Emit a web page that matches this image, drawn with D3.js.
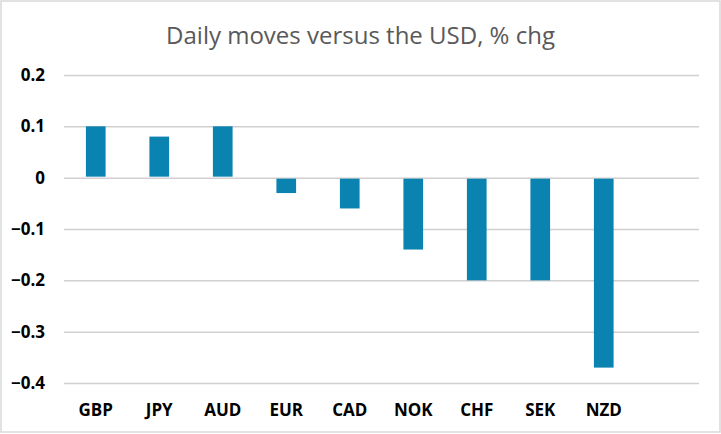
<!DOCTYPE html>
<html lang="en">
<head>
  <meta charset="UTF-8">
  <title>Daily moves versus the USD</title>
  <script src="https://d3js.org/d3.v7.min.js"></script>
  <style>
    body { margin: 0; background: #fff; }
    svg { display: block; }
  </style>
</head>
<body>
  <svg width="721" height="434"></svg>

  <script>
    // Chart data
    const currencies = ["GBP", "JPY", "AUD", "EUR", "CAD", "NOK", "CHF", "SEK", "NZD"];
    const changes = [0.1, 0.08, 0.1, -0.03, -0.06, -0.14, -0.2, -0.2, -0.37];
    const yTicks = [0.2, 0.1, 0, -0.1, -0.2, -0.3, -0.4];

    const W = 721, H = 434;
    const margin = { top: 75, right: 22, bottom: 51, left: 64 };
    const width = W - margin.left - margin.right;
    const height = H - margin.top - margin.bottom;
    const font = "'Open Sans', 'Noto Sans', sans-serif";

    const svg = d3.select("svg");

    // outer border
    svg.append("rect")
      .attr("x", 1).attr("y", 1)
      .attr("width", W - 2).attr("height", H - 3)
      .attr("fill", "#fff")
      .attr("stroke", "#d9d9d9")
      .attr("stroke-width", 1.5);

    // title
    svg.append("text")
      .attr("x", W / 2)
      .attr("y", 44)
      .attr("text-anchor", "middle")
      .style("font-family", font)
      .style("font-size", "24px")
      .style("fill", "#595959")
      .text("Daily moves versus the USD, % chg");

    const g = svg.append("g")
      .attr("transform", "translate(" + margin.left + "," + margin.top + ")");

    // the category axis leaves one empty slot on the right, like the original
    const x = d3.scaleBand()
      .domain(currencies)
      .range([0, width * 9 / 10])
      .paddingInner(0.69)
      .paddingOuter(0.345);

    const y = d3.scaleLinear()
      .domain([-0.4, 0.2])
      .range([height, 0]);

    // gridlines + y labels
    const yAxis = g.append("g")
      .call(d3.axisLeft(y).tickValues(yTicks).tickSize(-width).tickFormat(d => d3.format("")(+d.toFixed(1))));
    yAxis.select(".domain").remove();
    yAxis.selectAll(".tick line")
      .attr("stroke", "#d0d0d0")
      .attr("stroke-width", 1.5);
    yAxis.selectAll(".tick text")
      .attr("x", -19)
      .style("font-family", font)
      .style("font-size", "17px")
      .style("font-weight", "bold")
      .style("fill", "#000");

    // bars
    g.selectAll(".bar")
      .data(currencies)
      .enter().append("rect")
      .attr("class", "bar")
      .attr("x", d => x(d))
      .attr("y", (d, i) => changes[i] > 0 ? y(changes[i]) : y(0) + 1)
      .attr("width", x.bandwidth())
      .attr("height", (d, i) => Math.abs(y(changes[i]) - y(0)) - 1)
      .attr("fill", "#0b83b0");

    // category labels
    g.selectAll(".cat")
      .data(currencies)
      .enter().append("text")
      .attr("class", "cat")
      .attr("x", d => x(d) + x.bandwidth() / 2)
      .attr("y", height + 33)
      .attr("text-anchor", "middle")
      .style("font-family", font)
      .style("font-size", "17px")
      .style("font-weight", "bold")
      .style("fill", "#000")
      .text(d => d);
  </script>
</body>
</html>
